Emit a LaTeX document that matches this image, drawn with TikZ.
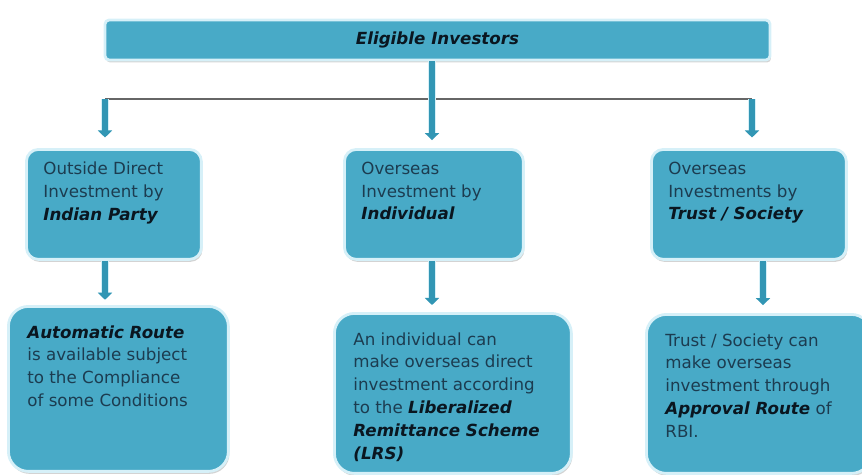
\documentclass[tikz,border=0pt]{standalone}
\usepackage{fontspec}
\setmainfont{DejaVu Sans}
\usetikzlibrary{arrows.meta,shadows}

\definecolor{boxblue}{RGB}{72,170,199}
\definecolor{rimblue}{RGB}{214,240,248}
\definecolor{stemblue}{RGB}{50,150,180}
\definecolor{inktext}{RGB}{28,60,80}
\definecolor{inkbold}{RGB}{10,22,32}

\newcommand{\keyword}[1]{{\color{inkbold}\bfseries\itshape #1}}
% panel body: width, height, text (top aligned)
\newcommand{\paneltext}[3]{\parbox[t][#2][t]{#1}{\raggedright #3}}

\begin{document}
\begin{tikzpicture}
[x=0.02cm, y=-0.02cm, font=\fontsize{9.5}{13}\selectfont,
panel/.style={rectangle, rounded corners=0.24cm, draw=rimblue, line width=1.6pt,
  fill=boxblue, text=inktext, anchor=north west, inner xsep=0.34cm, inner ysep=0.25cm,
  drop shadow={shadow xshift=0.6pt, shadow yshift=-1.4pt, opacity=0.35}},
bigpanel/.style={panel, rounded corners=0.4cm, inner xsep=0.38cm, inner ysep=0.38cm},
topbar/.style={rectangle, rounded corners=0.08cm, draw=rimblue, line width=1.6pt,
  fill=boxblue, minimum width=13.3cm, minimum height=0.8cm,
  drop shadow={shadow xshift=0.6pt, shadow yshift=-1.4pt, opacity=0.35}},
stem/.style={draw=stemblue, line width=3.4pt, preaction={draw=rimblue, line width=5pt},
  -{Triangle[width=8pt,length=4pt]}},
rail/.style={draw=gray!80!black, line width=1.2pt}]

\useasboundingbox (0,0) rectangle (862,474);
\clip (0,0) rectangle (862,474);

\node[topbar] (investors) at (437.5,40) {\keyword{Eligible Investors}};

% middle row
\node[panel] (party) at (25,148)
  {\paneltext{2.82cm}{1.7cm}{Outside Direct\\ Investment by\\ \keyword{Indian Party}}};
\node[panel] (individual) at (343,148)
  {\paneltext{2.9cm}{1.7cm}{Overseas\\ Investment by\\ \keyword{Individual}}};
\node[panel] (trust) at (650,148)
  {\paneltext{3.22cm}{1.7cm}{Overseas\\ Investments by\\ \keyword{Trust / Society}}};

% bottom row
\node[bigpanel] (automatic) at (7,305)
  {\paneltext{3.64cm}{2.54cm}{\keyword{Automatic Route}\\ is available subject\\ to the Compliance\\ of some Conditions}};
\node[bigpanel] (lrs) at (333,312)
  {\paneltext{3.98cm}{2.44cm}{An individual can\\ make overseas direct\\ investment according\\ to the \keyword{Liberalized}\\ \keyword{Remittance Scheme}\\ \keyword{(LRS)}}};
\node[bigpanel] (approval) at (645,313)
  {\paneltext{3.74cm}{2.42cm}{Trust / Society can\\ make overseas\\ investment through\\ \keyword{Approval Route} of\\ RBI.}};

% connectors
\coordinate (railL) at (105,99);
\coordinate (railR) at (752,99);
\draw[rail] (railL) -- (railR);
\draw[stem] (investors.south -| 432,0) -- ([yshift=4.5pt]individual.north -| 432,0);
\draw[stem] (railL) -- ([yshift=6pt]railL |- party.north);
\draw[stem] (railR) -- ([yshift=6pt]railR |- trust.north);

\draw[stem] (party.south -| railL) -- ([yshift=3pt]automatic.north -| railL);
\draw[stem] (individual.south -| 432,0) -- ([yshift=4pt]lrs.north -| 432,0);
\draw[stem] (trust.south -| 763,0) -- ([yshift=4.5pt]approval.north -| 763,0);
\end{tikzpicture}
\end{document}
